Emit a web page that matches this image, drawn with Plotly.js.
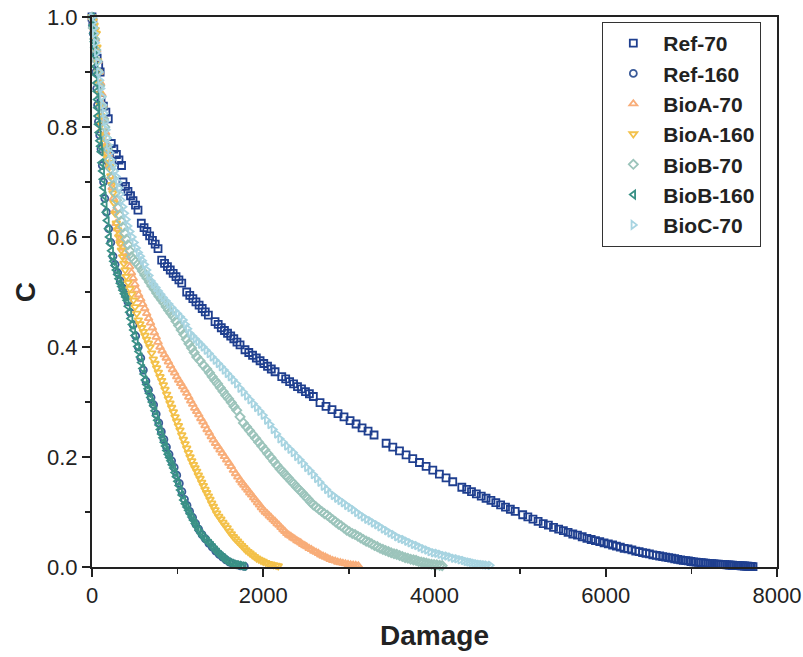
<!DOCTYPE html>
<html>
<head>
<meta charset="utf-8">
<script src="https://cdn.plot.ly/plotly-3.0.1.min.js"></script>
<style>html,body{margin:0;padding:0;background:#fff;}#chart{width:803px;height:657px;}</style>
</head>
<body>
<div id="chart"></div>
<script>
// Ref-70
const ref70X = [0,10,60,78,95,105,133,162,190,225,255,285,315,345,362,391,420,450,479,508,537,576,608,641,673,706,738,771,814,847,881,914,948,981,1015,1048,1106,1142,1178,1214,1251,1287,1323,1359,1437,1474,1510,1547,1583,1620,1656,1693,1729,1787,1831,1875,1919,1963,2006,2050,2094,2138,2216,2262,2308,2354,2400,2447,2493,2539,2585,2663,2733,2803,2873,2943,3014,3084,3154,3224,3294,3435,3513,3591,3668,3746,3824,3902,3980,4057,4135,4213,4319,4376,4432,4489,4546,4602,4659,4716,4772,4829,4886,4942,5030,5090,5150,5210,5270,5330,5390,5450,5505,5560,5615,5670,5725,5780,5830,5880,5930,5980,6030,6080,6125,6170,6215,6260,6305,6350,6390,6430,6470,6510,6550,6590,6630,6665,6700,6735,6770,6805,6840,6875,6905,6935,6965,6995,7025,7055,7085,7115,7140,7165,7190,7215,7240,7265,7290,7315,7340,7365,7390,7415,7440,7460,7480,7500,7520,7540,7560,7580,7600,7620,7640,7660,7680,7700,7720];
const ref70Y = [1.0,0.99,0.925,0.912,0.900,0.850,0.838,0.827,0.815,0.770,0.760,0.750,0.740,0.730,0.700,0.692,0.683,0.675,0.666,0.658,0.649,0.625,0.617,0.610,0.602,0.594,0.587,0.579,0.558,0.552,0.546,0.540,0.534,0.528,0.522,0.516,0.500,0.494,0.488,0.482,0.476,0.470,0.464,0.458,0.446,0.441,0.435,0.430,0.425,0.420,0.415,0.409,0.404,0.395,0.390,0.385,0.380,0.375,0.370,0.365,0.360,0.355,0.346,0.342,0.337,0.333,0.328,0.324,0.319,0.315,0.310,0.299,0.292,0.286,0.279,0.273,0.266,0.260,0.253,0.247,0.240,0.225,0.218,0.211,0.204,0.197,0.190,0.183,0.176,0.169,0.162,0.155,0.145,0.141,0.137,0.133,0.129,0.125,0.121,0.117,0.113,0.109,0.105,0.101,0.095,0.091,0.087,0.083,0.079,0.076,0.072,0.069,0.066,0.063,0.060,0.058,0.055,0.052,0.050,0.048,0.046,0.044,0.042,0.040,0.038,0.036,0.034,0.033,0.031,0.029,0.028,0.026,0.025,0.024,0.022,0.021,0.020,0.019,0.018,0.017,0.016,0.015,0.014,0.013,0.012,0.0115,0.011,0.010,0.0095,0.009,0.0085,0.008,0.0075,0.007,0.0067,0.0063,0.006,0.0057,0.0054,0.0051,0.0048,0.0045,0.0042,0.0039,0.0036,0.0034,0.0032,0.003,0.0028,0.0026,0.0024,0.0022,0.002,0.0018,0.0016,0.0014,0.0012,0.001,0.0008];

// Ref-160
const ref160X = [0,15,30,45,55,65,75,90,105,120,135,150,170,195,220,245,270,300,330,360,390,420,450,480,510,540,570,600,630,660,690,720,750,780,810,840,870,900,930,960,990,1020,1050,1080,1110,1140,1175,1210,1245,1285,1325,1365,1405,1445,1485,1525,1565,1605,1645,1690,1735,1780];
const ref160Y = [1.0,0.97,0.94,0.90,0.87,0.84,0.81,0.785,0.76,0.73,0.70,0.67,0.645,0.615,0.59,0.565,0.55,0.535,0.52,0.507,0.495,0.482,0.462,0.44,0.42,0.40,0.38,0.358,0.338,0.322,0.308,0.295,0.278,0.262,0.246,0.232,0.218,0.205,0.193,0.181,0.167,0.152,0.137,0.123,0.112,0.101,0.090,0.079,0.069,0.059,0.051,0.043,0.036,0.029,0.023,0.018,0.013,0.009,0.006,0.004,0.002,0.001];

// BioA-70
const bioA70X = [0,20,40,55,70,85,100,115,130,145,160,175,190,205,220,235,250,267,284,299,314,328,343,362,382,401,420,440,461,481,501,522,545,569,592,616,639,661,683,705,728,750,772,794,818,843,867,892,916,940,965,989,1012,1036,1059,1083,1106,1130,1153,1176,1200,1223,1247,1271,1296,1320,1344,1369,1393,1417,1443,1469,1495,1521,1547,1573,1599,1625,1651,1677,1703,1729,1752,1774,1797,1820,1842,1865,1888,1910,1933,1956,1978,2001,2024,2047,2070,2092,2115,2138,2161,2184,2207,2230,2252,2275,2298,2322,2345,2368,2392,2415,2438,2461,2485,2508,2535,2562,2590,2617,2644,2671,2698,2726,2753,2780,2810,2840,2870,2900,2930,2960,2990,3020,3050,3080,3110];
const bioA70Y = [1.0,0.98,0.96,0.94,0.92,0.90,0.88,0.86,0.84,0.815,0.79,0.77,0.75,0.73,0.71,0.69,0.67,0.647,0.625,0.615,0.605,0.596,0.588,0.580,0.572,0.564,0.556,0.546,0.535,0.525,0.514,0.504,0.495,0.487,0.478,0.470,0.461,0.452,0.444,0.435,0.426,0.418,0.409,0.400,0.393,0.386,0.380,0.373,0.366,0.359,0.353,0.346,0.340,0.334,0.328,0.322,0.316,0.309,0.302,0.296,0.289,0.283,0.277,0.270,0.264,0.257,0.250,0.244,0.237,0.231,0.225,0.219,0.213,0.207,0.201,0.195,0.189,0.183,0.176,0.170,0.164,0.158,0.153,0.149,0.144,0.140,0.135,0.131,0.126,0.122,0.117,0.113,0.108,0.104,0.100,0.097,0.093,0.090,0.086,0.083,0.079,0.076,0.072,0.068,0.065,0.061,0.058,0.056,0.053,0.051,0.048,0.046,0.044,0.041,0.039,0.037,0.034,0.032,0.029,0.027,0.025,0.022,0.020,0.018,0.016,0.014,0.012,0.011,0.009,0.008,0.007,0.006,0.005,0.004,0.0035,0.003,0.0025];

// BioA-160
const bioA160X = [0,12,25,38,50,58,65,72,80,88,95,102,109,120,130,140,150,165,180,195,207,220,232,245,258,271,284,299,314,328,343,358,372,387,401,421,442,462,483,502,522,541,560,580,600,619,638,658,677,697,716,736,755,775,794,814,833,853,872,892,911,930,950,970,989,1009,1028,1048,1067,1087,1106,1126,1145,1165,1184,1203,1223,1242,1262,1281,1300,1320,1339,1359,1378,1398,1417,1437,1456,1480,1505,1529,1553,1578,1602,1627,1651,1675,1700,1724,1748,1773,1797,1822,1846,1872,1897,1923,1948,1974,2000,2030,2060,2090,2120,2150,2175];
const bioA160Y = [1.0,0.993,0.985,0.977,0.97,0.945,0.92,0.90,0.88,0.86,0.84,0.82,0.805,0.793,0.782,0.771,0.76,0.752,0.743,0.735,0.728,0.711,0.695,0.68,0.662,0.643,0.625,0.613,0.600,0.588,0.576,0.564,0.552,0.540,0.528,0.517,0.506,0.496,0.485,0.473,0.461,0.449,0.442,0.435,0.428,0.421,0.414,0.407,0.400,0.389,0.378,0.370,0.362,0.354,0.346,0.339,0.331,0.323,0.314,0.306,0.298,0.290,0.282,0.273,0.265,0.257,0.249,0.240,0.232,0.224,0.216,0.208,0.200,0.193,0.186,0.180,0.174,0.167,0.161,0.154,0.148,0.141,0.135,0.129,0.123,0.116,0.110,0.104,0.098,0.092,0.087,0.081,0.076,0.071,0.065,0.060,0.055,0.051,0.047,0.043,0.039,0.035,0.031,0.028,0.025,0.022,0.019,0.016,0.014,0.012,0.010,0.008,0.006,0.005,0.004,0.003,0.002];

// BioB-70
const bioB70X = [0,15,30,45,60,75,90,105,120,135,150,167,184,200,218,235,253,270,287,303,320,341,361,382,401,420,440,459,484,510,535,560,588,616,643,671,699,727,755,783,811,839,867,894,922,950,980,1011,1041,1072,1102,1132,1163,1193,1223,1262,1301,1340,1372,1404,1436,1467,1499,1531,1563,1595,1627,1658,1690,1729,1768,1804,1839,1875,1911,1946,1982,2018,2053,2089,2125,2160,2196,2228,2261,2293,2326,2358,2391,2423,2455,2488,2520,2553,2585,2618,2650,2683,2715,2748,2780,2813,2845,2878,2910,2943,2975,3007,3040,3072,3105,3137,3169,3202,3234,3267,3299,3332,3364,3397,3429,3462,3494,3527,3559,3592,3624,3657,3689,3722,3754,3785,3815,3845,3875,3905,3935,3965,3995,4027,4060,4090];
const bioB70Y = [1.0,0.98,0.96,0.94,0.92,0.90,0.875,0.855,0.835,0.815,0.80,0.78,0.76,0.74,0.724,0.708,0.694,0.68,0.667,0.653,0.64,0.629,0.618,0.607,0.596,0.586,0.575,0.564,0.559,0.555,0.550,0.545,0.538,0.531,0.525,0.518,0.511,0.505,0.498,0.492,0.486,0.480,0.473,0.467,0.461,0.455,0.447,0.439,0.431,0.423,0.414,0.406,0.398,0.390,0.382,0.375,0.367,0.360,0.353,0.346,0.339,0.333,0.326,0.319,0.312,0.306,0.299,0.292,0.285,0.273,0.262,0.255,0.248,0.241,0.234,0.227,0.220,0.213,0.206,0.199,0.192,0.185,0.178,0.173,0.167,0.162,0.156,0.151,0.145,0.140,0.135,0.129,0.124,0.118,0.113,0.109,0.105,0.101,0.097,0.094,0.090,0.086,0.082,0.078,0.075,0.071,0.067,0.064,0.061,0.059,0.056,0.053,0.050,0.047,0.045,0.042,0.039,0.037,0.034,0.032,0.030,0.028,0.026,0.024,0.023,0.021,0.019,0.017,0.016,0.014,0.013,0.012,0.010,0.009,0.008,0.007,0.006,0.005,0.0045,0.004,0.003,0.0025];

// BioB-160
const bioB160X = [0,8,16,24,30,36,42,47,52,56,60,63,66,72,80,88,96,104,112,120,127,133,140,150,162,175,188,200,212,225,238,250,265,280,296,311,327,343,358,374,390,405,420,436,451,467,483,498,514,530,545,561,575,590,604,619,635,651,667,683,700,716,732,748,763,779,794,809,824,840,855,870,886,902,918,934,950,966,982,998,1014,1030,1048,1067,1086,1105,1124,1143,1163,1183,1203,1223,1247,1271,1295,1320,1345,1370,1394,1417,1440,1463,1486,1509,1531,1553,1573,1600,1630,1660,1690,1720,1750,1775];
const bioB160Y = [1.0,0.985,0.970,0.955,0.945,0.93,0.91,0.895,0.88,0.865,0.85,0.835,0.82,0.805,0.79,0.775,0.765,0.755,0.735,0.72,0.705,0.69,0.675,0.66,0.645,0.63,0.615,0.60,0.588,0.575,0.565,0.556,0.548,0.540,0.532,0.524,0.516,0.510,0.503,0.497,0.491,0.485,0.474,0.463,0.452,0.441,0.431,0.421,0.411,0.401,0.392,0.382,0.372,0.361,0.351,0.340,0.332,0.324,0.316,0.308,0.300,0.293,0.284,0.275,0.267,0.258,0.250,0.242,0.235,0.227,0.220,0.212,0.205,0.199,0.193,0.186,0.180,0.172,0.164,0.156,0.148,0.140,0.131,0.122,0.115,0.109,0.103,0.097,0.091,0.085,0.079,0.073,0.067,0.061,0.056,0.051,0.047,0.043,0.039,0.035,0.031,0.027,0.023,0.020,0.017,0.014,0.011,0.009,0.007,0.005,0.004,0.003,0.002,0.0015];

// BioC-70
const bioC70X = [0,10,20,30,42,55,68,80,92,105,118,130,143,155,168,180,195,210,226,245,265,284,304,317,330,343,362,381,401,420,445,470,495,520,544,568,591,615,641,667,693,721,749,777,805,833,866,900,933,967,1000,1034,1067,1093,1119,1145,1176,1207,1238,1269,1300,1335,1370,1405,1440,1476,1511,1546,1581,1616,1651,1690,1729,1768,1807,1846,1885,1923,1962,2001,2040,2079,2118,2157,2196,2235,2274,2313,2352,2391,2430,2469,2508,2547,2586,2624,2663,2702,2741,2780,2819,2858,2897,2936,2975,3014,3053,3092,3131,3170,3209,3248,3287,3326,3364,3403,3442,3481,3520,3559,3598,3637,3676,3715,3754,3793,3832,3871,3910,3949,3988,4027,4066,4105,4144,4183,4222,4261,4300,4338,4370,4400,4430,4460,4490,4520,4550,4580,4610,4650];
const bioC70Y = [1.0,0.99,0.98,0.97,0.953,0.935,0.918,0.90,0.885,0.87,0.855,0.84,0.825,0.81,0.795,0.78,0.767,0.753,0.74,0.73,0.72,0.71,0.70,0.689,0.678,0.667,0.655,0.643,0.632,0.62,0.61,0.60,0.59,0.58,0.572,0.565,0.557,0.55,0.54,0.53,0.52,0.514,0.508,0.502,0.496,0.49,0.484,0.478,0.472,0.466,0.461,0.455,0.449,0.441,0.433,0.425,0.42,0.415,0.41,0.405,0.40,0.394,0.388,0.382,0.376,0.370,0.364,0.358,0.352,0.346,0.340,0.333,0.325,0.318,0.311,0.304,0.297,0.290,0.283,0.276,0.267,0.259,0.250,0.242,0.233,0.227,0.220,0.214,0.208,0.201,0.195,0.188,0.181,0.175,0.168,0.161,0.154,0.147,0.141,0.134,0.130,0.125,0.121,0.117,0.112,0.108,0.104,0.099,0.095,0.091,0.087,0.084,0.080,0.077,0.073,0.069,0.066,0.062,0.059,0.055,0.052,0.050,0.047,0.044,0.041,0.039,0.036,0.033,0.031,0.028,0.026,0.025,0.023,0.021,0.020,0.018,0.016,0.015,0.013,0.012,0.010,0.009,0.008,0.007,0.006,0.005,0.0045,0.004,0.0035,0.003];

const seriesNames = ['Ref-70','Ref-160','BioA-70','BioA-160','BioB-70','BioB-160','BioC-70'];
const xTicks = [0,2000,4000,6000,8000];
const yTicks = [0,0.2,0.4,0.6,0.8,1.0];

const series = [
  {name: seriesNames[0], x: ref70X, y: ref70Y, symbol: 'square-open', color: '#1f3f8f'},
  {name: seriesNames[1], x: ref160X, y: ref160Y, symbol: 'circle-open', color: '#3b5b99'},
  {name: seriesNames[2], x: bioA70X, y: bioA70Y, symbol: 'triangle-up-open', color: '#f8ad79'},
  {name: seriesNames[3], x: bioA160X, y: bioA160Y, symbol: 'triangle-down-open', color: '#f3c14a'},
  {name: seriesNames[4], x: bioB70X, y: bioB70Y, symbol: 'diamond-open', color: '#9cc4bb'},
  {name: seriesNames[5], x: bioB160X, y: bioB160Y, symbol: 'triangle-left-open', color: '#3a9186'},
  {name: seriesNames[6], x: bioC70X, y: bioC70Y, symbol: 'triangle-right-open', color: '#a7d4e1'}
];

const traces = series.map(s => ({
  type: 'scatter', mode: 'markers', name: s.name, x: s.x, y: s.y,
  cliponaxis: false,
  marker: {symbol: s.symbol, size: 7, color: s.color, line: {width: 1.8, color: s.color}}
}));

const fontFam = 'Liberation Sans, Arial, Helvetica, sans-serif';
const layout = {
  width: 803, height: 657,
  margin: {l: 92, r: 26, t: 17, b: 90},
  paper_bgcolor: '#fff', plot_bgcolor: '#fff',
  showlegend: true,
  font: {family: fontFam, color: '#222'},
  xaxis: {
    range: [0, 8000], tickvals: xTicks, ticktext: xTicks.map(String),
    showgrid: false, zeroline: false,
    showline: true, linecolor: '#222', linewidth: 2, mirror: true,
    ticks: 'outside', ticklen: 8, tickwidth: 2, tickcolor: '#222',
    tickfont: {size: 22, family: fontFam, color: '#222'},
    minor: {dtick: 1000, tick0: 0, ticks: 'outside', ticklen: 5, tickwidth: 1.5, tickcolor: '#222', showgrid: false},
    title: {text: 'Damage', font: {size: 28, weight: 700, family: fontFam, color: '#222'}, standoff: 18}
  },
  yaxis: {
    range: [0, 1.0], tickvals: yTicks, ticktext: yTicks.map(v => v.toFixed(1)),
    showgrid: false, zeroline: false,
    showline: true, linecolor: '#222', linewidth: 2, mirror: true,
    ticks: 'outside', ticklen: 8, tickwidth: 2, tickcolor: '#222',
    tickfont: {size: 22, family: fontFam, color: '#222'},
    minor: {dtick: 0.1, tick0: 0, ticks: 'outside', ticklen: 5, tickwidth: 1.5, tickcolor: '#222', showgrid: false},
    title: {text: 'C', font: {size: 28, weight: 700, family: fontFam, color: '#222'}, standoff: 3}
  },
  legend: {
    x: 0.745, y: 0.991, xanchor: 'left', yanchor: 'top',
    bgcolor: '#fff', bordercolor: '#333', borderwidth: 1,
    font: {size: 21, weight: 700, family: fontFam, color: '#222'},
    itemwidth: 50, tracegroupgap: 0
  }
};

Plotly.newPlot('chart', traces, layout, {displayModeBar: false, staticPlot: true});
</script>
</body>
</html>
